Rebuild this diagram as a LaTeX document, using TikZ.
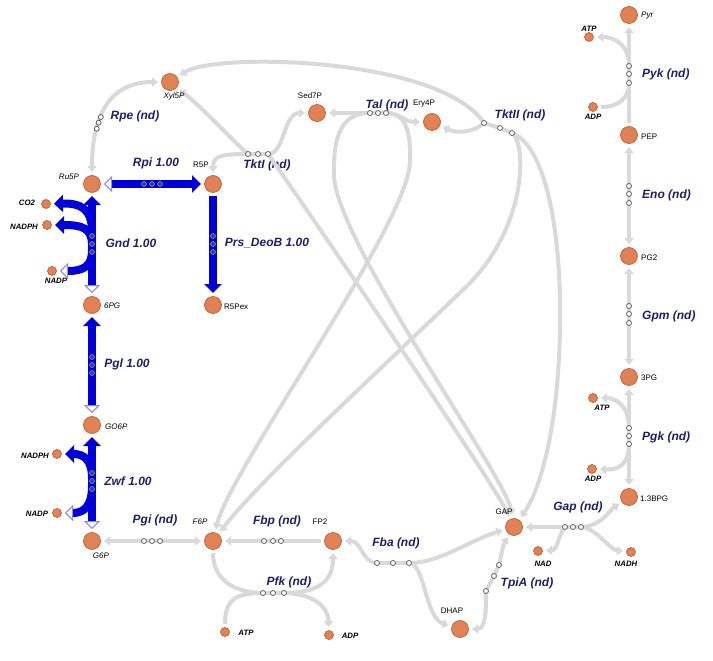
\documentclass[tikz,border=0pt]{standalone}
\usepackage{fontspec}
\setmainfont{Liberation Sans}
\usetikzlibrary{arrows.meta}

\definecolor{metfill}{RGB}{224,130,85}
\definecolor{metline}{RGB}{188,100,58}
\definecolor{nullflux}{RGB}{217,217,217}
\definecolor{flux}{RGB}{0,0,215}
\definecolor{fluxback}{RGB}{135,135,255}
\definecolor{rxnlabel}{RGB}{30,30,110}
\definecolor{mkline}{RGB}{95,95,95}
\definecolor{fluxmk}{RGB}{60,60,140}

\tikzset{
  tipg/.tip={Triangle[length=6pt,width=9pt]},
  tipb/.tip={Triangle[length=9pt,width=17pt]},
  tipo/.tip={Triangle[open,length=8pt,width=16pt,line width=1pt,fill=white,color=fluxback]},
  met/.style={circle,fill=metfill,draw=metline,line width=0.7pt,minimum size=17pt,inner sep=0pt,outer sep=3.5pt},
  cof/.style={circle,fill=metfill,draw=metline,line width=0.7pt,minimum size=9pt,inner sep=0pt,outer sep=3.5pt},
  gl/.style={draw=nullflux,line width=4pt},
  bl/.style={draw=flux,line width=8pt},
  gmk/.style={circle,draw=mkline,fill=white,line width=0.8pt,minimum size=5pt,inner sep=0pt},
  bmk/.style={circle,draw=fluxmk!60!white,fill=fluxmk,line width=0.6pt,minimum size=5pt,inner sep=0pt},
  rl/.style={text=rxnlabel,font=\fontsize{12}{14}\selectfont\bfseries\itshape,inner sep=0pt},
  ml/.style={font=\fontsize{8}{9}\selectfont,inner sep=0pt},
  mli/.style={font=\fontsize{8}{9}\selectfont\itshape,inner sep=0pt},
  cl/.style={font=\fontsize{7.8}{9}\selectfont\bfseries\itshape,inner sep=0pt},
}

\begin{document}
\begin{tikzpicture}[x=1pt,y=-1pt]
\fill[white] (0,0) rectangle (713,661);
\useasboundingbox (0,0) rectangle (713,661);

% ---------- reaction labels ----------
\node[rl] (tRpe) at (135,116) {Rpe (nd)};
\node[rl] (tRpi) at (156,163) {Rpi 1.00};
\node[rl] (tGnd) at (131,243) {Gnd 1.00};
\node[rl] (tPrs) at (267,243) {Prs\_DeoB 1.00};
\node[rl] (tPgl) at (127,364) {Pgl 1.00};
\node[rl] (tZwf) at (128,481) {Zwf 1.00};
\node[rl] (tPgi) at (155,520) {Pgi (nd)};
\node[rl] (tFbp) at (277,521) {Fbp (nd)};
\node[rl] (tPfk) at (289,582) {Pfk (nd)};
\node[rl] (tFba) at (396,543) {Fba (nd)};
\node[rl] (tTpi) at (527,583) {TpiA (nd)};
\node[rl] (tGap) at (578,507) {Gap (nd)};
\node[rl,anchor=west] (tPgk) at (642,437) {Pgk (nd)};
\node[rl,anchor=west] (tGpm) at (642,316) {Gpm (nd)};
\node[rl,anchor=west] (tEno) at (642,195) {Eno (nd)};
\node[rl,anchor=west] (tPyk) at (642,74) {Pyk (nd)};
\node[rl] (tTk1) at (267,165) {TktI (nd)};
\node[rl] (tTal) at (387,105) {Tal (nd)};
\node[rl] (tTk2) at (520,115) {TktII (nd)};

% ---------- metabolites ----------
\node[met] (Pyr) at (629,15) {};
\node[met] (PEP) at (629,135) {};
\node[met] (PG2) at (629,256) {};
\node[met] (PG3) at (629,377) {};
\node[met] (BPG) at (629,497) {};
\node[met] (GAP) at (514,527) {};
\node[met] (DHAP) at (460,629) {};
\node[met] (FP2) at (333,541) {};
\node[met] (F6P) at (213,541) {};
\node[met] (G6P) at (92,541) {};
\node[met] (GO6P) at (92,425) {};
\node[met] (PG6) at (92,305) {};
\node[met] (Ru5P) at (92,184) {};
\node[met] (R5P) at (213,184) {};
\node[met] (R5Pex) at (213,305) {};
\node[met] (Xyl5P) at (170,82) {};
\node[met] (Sed7P) at (317,113) {};
\node[met] (Ery4P) at (432,122) {};

\node[cof] (atpA) at (589,37) {};
\node[cof] (adpA) at (593,107) {};
\node[cof] (atpB) at (593,398) {};
\node[cof] (adpB) at (592,469) {};
\node[cof] (nadh) at (631,552) {};
\node[cof] (nad) at (538,551) {};
\node[cof] (atpC) at (225,632) {};
\node[cof] (adpC) at (329,635) {};
\node[cof] (nadphA) at (57,454) {};
\node[cof] (nadpA) at (57,513) {};
\node[cof] (co2) at (46,204) {};
\node[cof] (nadphB) at (47,225) {};
\node[cof] (nadpB) at (52,271) {};

% ---------- reaction centres ----------
\coordinate (tk1a) at (248,154); \coordinate (tk1b) at (258,154); \coordinate (tk1c) at (268,154);
\coordinate (ta1) at (370,113);  \coordinate (ta2) at (378,113);  \coordinate (ta3) at (386,113);
\coordinate (tk2a) at (484,123); \coordinate (tk2b) at (500,128); \coordinate (tk2c) at (512,133);
\coordinate (pgi1) at (144,541); \coordinate (pgi2) at (152,541); \coordinate (pgi3) at (160,541);
\coordinate (fbp1) at (264,541); \coordinate (fbp2) at (273,541); \coordinate (fbp3) at (281,541);
\coordinate (pfk1) at (263,593); \coordinate (pfk2) at (273,593); \coordinate (pfk3) at (284,593);
\coordinate (fba1) at (377,563); \coordinate (fba2) at (393,563); \coordinate (fba3) at (409,563);
\coordinate (tpi1) at (486,591); \coordinate (tpi2) at (494,576); \coordinate (tpi3) at (499,565);
\coordinate (gap1) at (565,527); \coordinate (gap2) at (573,527); \coordinate (gap3) at (581,527);
\coordinate (pgk1) at (629,428); \coordinate (pgk2) at (629,436); \coordinate (pgk3) at (629,444);
\coordinate (gpm1) at (629,306); \coordinate (gpm2) at (629,314); \coordinate (gpm3) at (629,323);
\coordinate (eno1) at (629,186); \coordinate (eno2) at (629,194); \coordinate (eno3) at (629,203);
\coordinate (pyk1) at (629,66);  \coordinate (pyk2) at (629,74);  \coordinate (pyk3) at (629,83);

% ---------- reactions without flux ----------
% Rpe
\draw[gl,tipg-tipg] (Ru5P) .. controls (92,118) and (108,82) .. (Xyl5P)
  coordinate[pos=0.3] (rpe1) coordinate[pos=0.35] (rpe2) coordinate[pos=0.4] (rpe3);
% TktI
\draw[gl,tipg-] (Xyl5P) .. controls (205,110) and (232,140) .. (tk1a);
\draw[gl] (tk1a) -- (tk1c);
\draw[gl,-tipg] (tk1a) .. controls (222,154) and (213,156) .. (R5P);
\draw[gl,-tipg] (tk1c) .. controls (285,154) and (283,113) .. (Sed7P);
\draw[gl,-tipg] (tk1c) .. controls (280,170) and (492,480) .. (GAP);
% Tal
\draw[gl,-tipg] (ta1) -- (Sed7P);
\draw[gl] (ta1) -- (ta3);
\draw[gl,-tipg] (ta3) .. controls (400,113) and (405,122) .. (Ery4P);
\draw[gl,-tipg] (ta1) .. controls (342,113) and (333,135) .. (334,175)
  .. controls (335,240) and (505,475) .. (GAP);
\draw[gl,-tipg] (ta3) .. controls (406,113) and (411,132) .. (410,162)
  .. controls (408,225) and (230,470) .. (F6P);
% TktII
\draw[gl,tipg-] (Xyl5P) .. controls (215,52) and (440,57) .. (tk2a);
\draw[gl,tipg-] (Ery4P) .. controls (458,134) and (474,132) .. (tk2a);
\draw[gl] (tk2a) -- (tk2b) -- (tk2c);
\draw[gl,-tipg] (tk2c) .. controls (525,140) and (530,220) .. (470,283)
  .. controls (380,370) and (260,480) .. (F6P);
\draw[gl,-tipg] (tk2c) .. controls (545,145) and (562,230) .. (560,330)
  .. controls (558,430) and (540,490) .. (GAP);
% Pgi, Fbp
\draw[gl,tipg-tipg] (G6P) -- (F6P);
\draw[gl,-tipg] (FP2) -- (F6P);
% Pfk
\draw[gl] (F6P) .. controls (213,580) and (235,593) .. (pfk1);
\draw[gl] (pfk1) -- (pfk3);
\draw[gl,-tipg] (pfk3) .. controls (320,593) and (333,580) .. (FP2);
\draw[gl] (atpC) .. controls (225,600) and (235,593) .. (pfk1);
\draw[gl,-tipg] (pfk3) .. controls (310,593) and (328,605) .. (adpC);
% Fba
\draw[gl,tipg-] (FP2) .. controls (362,541) and (362,563) .. (fba1);
\draw[gl] (fba1) -- (fba3);
\draw[gl,-tipg] (fba3) .. controls (440,563) and (470,540) .. (GAP);
\draw[gl,-tipg] (fba3) .. controls (425,563) and (425,618) .. (DHAP);
% TpiA
\draw[gl,tipg-] (DHAP) .. controls (486,629) and (486,610) .. (tpi1);
\draw[gl] (tpi1) -- (tpi2) -- (tpi3);
\draw[gl,-tipg] (tpi3) .. controls (502,552) and (503,545) .. (GAP);
% Gap
\draw[gl,-tipg] (gap1) -- (GAP);
\draw[gl] (gap1) -- (gap3);
\draw[gl,-tipg] (gap1) .. controls (558,535) and (558,550) .. (nad);
\draw[gl,-tipg] (gap3) .. controls (600,527) and (610,510) .. (BPG);
\draw[gl,-tipg] (gap3) .. controls (595,527) and (610,550) .. (nadh);
% Pgk
\draw[gl,tipg-tipg] (PG3) -- (BPG);
\draw[gl,-tipg] (pgk1) .. controls (629,405) and (615,398) .. (atpB);
\draw[gl,-tipg] (pgk3) .. controls (629,465) and (618,470) .. (adpB);
% Gpm, Eno
\draw[gl,tipg-tipg] (PG2) -- (PG3);
\draw[gl,tipg-tipg] (PEP) -- (PG2);
% Pyk
\draw[gl,-tipg] (PEP) -- (Pyr);
\draw[gl,-tipg] (pyk1) .. controls (629,45) and (615,37) .. (atpA);
\draw[gl] (adpA) .. controls (620,107) and (629,97) .. (pyk3);

% ---------- reactions carrying flux ----------
\coordinate (gndA) at (92,232); \coordinate (gndB) at (92,245); \coordinate (gndC) at (92,250);
\coordinate (zwfA) at (92,478); \coordinate (zwfB) at (92,486);
\draw[bl,tipo-tipb] (Ru5P) -- (R5P);
\draw[bl,-tipb] (R5P) -- (R5Pex);
\draw[bl,tipo-tipb] (PG6) -- (Ru5P);
\draw[bl,-tipb] (gndA) .. controls (92,210) and (82,203) .. (co2);
\draw[bl,-tipb] (gndB) .. controls (92,228) and (82,225) .. (nadphB);
\draw[bl,-tipo] (gndC) .. controls (92,266) and (84,271) .. (nadpB);
\draw[bl,tipo-tipb] (GO6P) -- (PG6);
\draw[bl,tipo-tipb] (G6P) -- (GO6P);
\draw[bl,-tipb] (zwfA) .. controls (92,460) and (84,454) .. (nadphA);
\draw[bl,-tipo] (zwfB) .. controls (92,506) and (84,513) .. (nadpA);

% ---------- markers ----------
\foreach \m in {rpe1,rpe2,rpe3,tk1a,tk1b,tk1c,ta1,ta2,ta3,tk2a,tk2b,tk2c,
  pgi1,pgi2,pgi3,fbp1,fbp2,fbp3,pfk1,pfk2,pfk3,fba1,fba2,fba3,tpi1,tpi2,tpi3,
  gap1,gap2,gap3,pgk1,pgk2,pgk3,gpm1,gpm2,gpm3,eno1,eno2,eno3,pyk1,pyk2,pyk3}
  \node[gmk] at (\m) {};
\foreach \p in {(144,184),(152,184),(160,184),(213,236),(213,244),(213,252),
  (92,236),(92,244),(92,252),(92,357),(92,365),(92,373),(92,473),(92,481),(92,489)}
  \node[bmk] at \p {};

% ---------- metabolite names (on top of the connectors) ----------
\node[mli,anchor=west] (lPyr) at (641,16) {Pyr};
\node[ml,anchor=west] (lPEP) at (641,137) {PEP};
\node[ml,anchor=west] (lPG2) at (641,258) {PG2};
\node[ml,anchor=west] (lPG3) at (641,378) {3PG};
\node[ml,anchor=west] (lBPG) at (640,499) {1.3BPG};
\node[ml] (lGAP) at (504,512) {GAP};
\node[ml] (lDHAP) at (452,611) {DHAP};
\node[ml] (lFP2) at (320,522) {FP2};
\node[mli] (lF6P) at (200,522) {F6P};
\node[mli] (lG6P) at (101,556) {G6P};
\node[mli,anchor=west] (lGO6P) at (105,427) {GO6P};
\node[mli,anchor=west] (lPG6) at (104,306) {6PG};
\node[mli] (lRu5P) at (69,177) {Ru5P};
\node[ml] (lR5P) at (201,165) {R5P};
\node[ml,anchor=west] (lR5Pex) at (224,307) {R5Pex};
\node[mli] (lXyl5P) at (174,96) {Xyl5P};
\node[ml] (lSed7P) at (310,96) {Sed7P};
\node[ml] (lEry4P) at (424,104) {Ery4P};

\node[cl] (latpA) at (589,29) {ATP};
\node[cl] (ladpA) at (593,117) {ADP};
\node[cl] (latpB) at (602,408) {ATP};
\node[cl] (ladpB) at (593,479) {ADP};
\node[cl] (lnadh) at (626,564) {NADH};
\node[cl] (lnad) at (543,564) {NAD};
\node[cl] (latpC) at (246,633) {ATP};
\node[cl] (ladpC) at (350,636) {ADP};
\node[cl] (lnadphA) at (35,456) {NADPH};
\node[cl] (lnadpA) at (37,514) {NADP};
\node[cl] (lco2) at (27,203) {CO2};
\node[cl] (lnadphB) at (24,227) {NADPH};
\node[cl] (lnadpB) at (56,281) {NADP};
\end{tikzpicture}
\end{document}
